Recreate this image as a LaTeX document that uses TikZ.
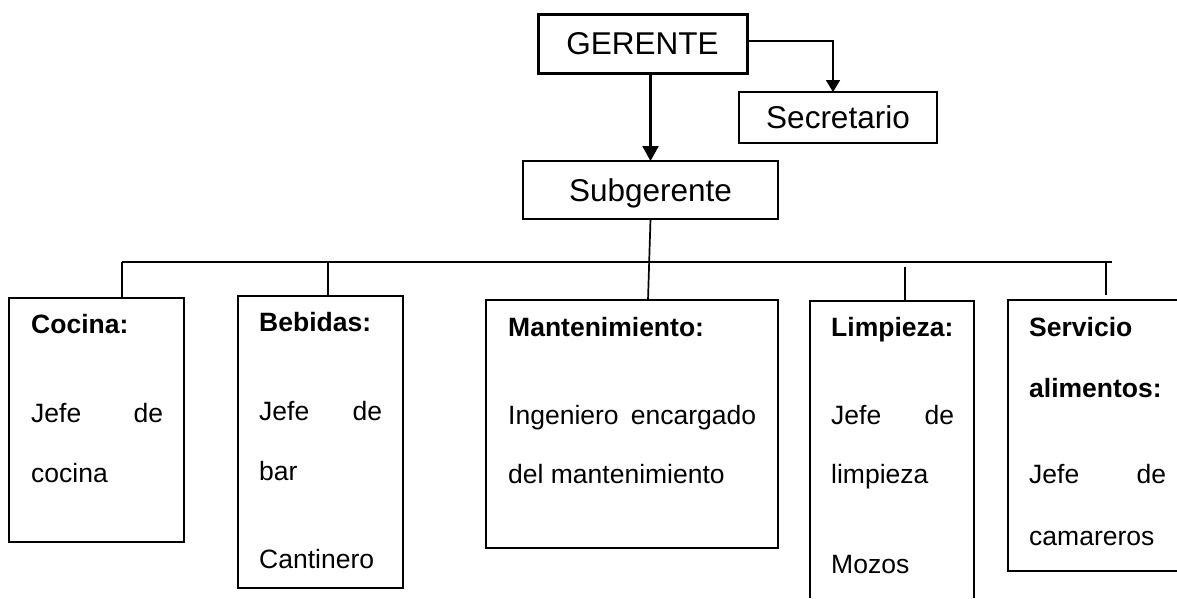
\documentclass[tikz,border=0pt]{standalone}
\usepackage{fontspec}
\setmainfont{Liberation Sans}
\usetikzlibrary{arrows.meta}
\begin{document}
\begin{tikzpicture}[x=1pt,y=-1pt,
  topbox/.style={draw, inner sep=0pt, outer sep=0pt, text height=22.6pt, text depth=0pt,
    font=\fontsize{31.5pt}{36pt}\selectfont},
  unitbox/.style={draw, line width=1.9pt, inner sep=0pt, outer sep=0pt},
  openbox/.style={draw=none, inner sep=0pt, outer sep=0pt},
  boxline/.style={line width=1.9pt},
  conn/.style={line width=1.7pt},
  arrowline/.style={line width=2.3pt, -{Triangle[width=16pt,length=15pt]}},
  lbl/.style={anchor=base west, inner sep=0pt, font=\fontsize{26.5pt}{30pt}\selectfont},
  hd/.style={anchor=base west, inner sep=0pt, font=\fontsize{26.5pt}{30pt}\selectfont\bfseries}]
\path[fill=white, use as bounding box] (0,0) rectangle (1177,598);

% top boxes
\node[topbox, line width=3pt, minimum width=209pt, minimum height=59pt] (ger) at (642.5,43.5) {GERENTE};
\node[topbox, line width=2.3pt, minimum width=198pt, minimum height=51pt] (sec) at (838,117.5) {Secretario};
\node[topbox, line width=2pt, minimum width=255pt, minimum height=58pt] (sub) at (650.5,190) {Subgerente};

% unit boxes
\node[unitbox, minimum width=175pt, minimum height=244pt] (coc) at (96.5,420) {};
\node[unitbox, minimum width=165pt, minimum height=292pt] (beb) at (320.5,442) {};
\node[unitbox, minimum width=292pt, minimum height=248pt] (man) at (632,424) {};
\node[openbox, minimum width=164pt, minimum height=297pt] (lim) at (892,449.5) {};
\node[openbox, minimum width=169pt, minimum height=271pt] (ser) at (1092.5,435.5) {};
\draw[boxline] (lim.south west) -- (lim.north west) -- (lim.north east) -- (lim.south east);
\draw[boxline] (ser.north east) -- (ser.north west) -- (ser.south west) -- (ser.south east);

% texts
\node[hd] (t1a) at (31,333) {Cocina:};
\node[lbl] (t1b) at (31,422) {\makebox[132pt][l]{Jefe\hfill de}};
\node[lbl] (t1c) at (31,482) {cocina};

\node[hd] (t2a) at (259,331) {Bebidas:};
\node[lbl] (t2b) at (259,420) {\makebox[123pt][l]{Jefe\hfill de}};
\node[lbl] (t2c) at (259,480) {bar};
\node[lbl] (t2d) at (259,568) {Cantinero};

\node[hd] (t3a) at (508,336) {Mantenimiento:};
\node[lbl] (t3b) at (508,424) {\makebox[248pt][l]{Ingeniero\hfill encargado}};
\node[lbl] (t3c) at (508,483) {del mantenimiento};

\node[hd] (t4a) at (831,336) {Limpieza:};
\node[lbl] (t4b) at (831,424) {\makebox[123pt][l]{Jefe\hfill de}};
\node[lbl] (t4c) at (831,483) {limpieza};
\node[lbl] (t4d) at (831,573) {Mozos};

\node[hd] (t5a) at (1029,336) {Servicio};
\node[hd] (t5b) at (1029,397) {alimentos:};
\node[lbl] (t5c) at (1029,483) {\makebox[137pt][l]{Jefe\hfill de}};
\node[lbl] (t5d) at (1029,545) {camareros};

% connectors
\draw[arrowline] (ger.south -| sub.north) -- (sub.north);
\draw[conn, -{Triangle[width=14pt,length=12pt]}] ([yshift=2.5pt]ger.east) -| ([xshift=-5pt]sec.north);
\draw[conn] (sub.south) -- ([xshift=16pt]man.north);

\coordinate (hl) at (122,262);
\coordinate (hr) at (1112,262);
\coordinate (jb) at (328,262);
\coordinate (jl) at (905,267);
\coordinate (js) at (1106,262);
\coordinate (jse) at (1106,295);
\draw[conn] (hl) -- (hr);
\draw[conn] (hl) -- (hl |- coc.north);
\draw[conn] (jb) -- (jb |- beb.north);
\draw[conn] (jl) -- (jl |- lim.north);
\draw[conn] (js) -- (jse);
\end{tikzpicture}
\end{document}
